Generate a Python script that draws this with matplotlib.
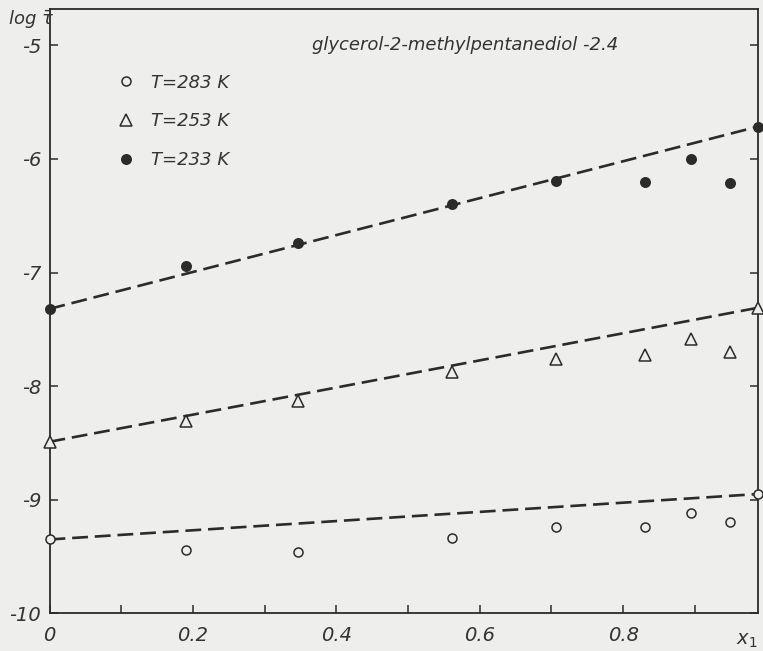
import matplotlib
matplotlib.use("Agg")
import matplotlib.pyplot as plt
from matplotlib.ticker import FixedLocator, FuncFormatter

# ── data ─────────────────────────────────────────────────────────────────────
x1 = [0.0, 0.19, 0.346, 0.561, 0.706, 0.83, 0.895, 0.949, 0.988]
log_tau_233 = [-7.32, -6.94, -6.74, -6.40, -6.19, -6.20, -6.00, -6.21, -5.715]
log_tau_253 = [-8.49, -8.31, -8.13, -7.88, -7.76, -7.73, -7.585, -7.70, -7.31]
log_tau_283 = [-9.35, -9.44, -9.46, -9.34, -9.24, -9.24, -9.12, -9.20, -8.95]

series_labels = ["T=283 K", "T=253 K", "T=233 K"]
x_ticks = [0.0, 0.1, 0.2, 0.3, 0.4, 0.5, 0.6, 0.7, 0.8, 0.9]
y_ticks = [-10, -9, -8, -7, -6, -5]

INK = "#2b2b2b"
PAPER = "#eeeeec"
plt.rcParams["font.family"] = ["DejaVu Sans"]

W, H = 763, 651
fig = plt.figure(figsize=(W / 100, H / 100), dpi=100, facecolor=PAPER)
# axes box in pixels: left 49.5, right 758, bottom 613.3, top 9
ax = fig.add_axes([49.5 / W, (H - 613.3) / H, (758 - 49.5) / W, (613.3 - 9) / H])
ax.set_facecolor(PAPER)
ax.set_xlim(0, 0.988)
ax.set_ylim(-10, -4.68)

styles = [
    (log_tau_283, dict(marker="o", markerfacecolor=PAPER, markersize=6.5)),
    (log_tau_253, dict(marker="^", markerfacecolor=PAPER, markersize=8.5)),
    (log_tau_233, dict(marker="o", markerfacecolor=INK, markersize=6.8)),
]
for (ys, st), lab in zip(styles, series_labels):
    # dashed straight line joining the pure-component values
    ax.plot([x1[0], x1[-1]], [ys[0], ys[-1]], color=INK, lw=1.9,
            dashes=(6, 2.6), zorder=2)
    ax.plot(x1, ys, linestyle="none", color=INK, markeredgecolor=INK,
            markeredgewidth=1.1, clip_on=False, zorder=3, label=lab, **st)

for sp in ax.spines.values():
    sp.set_color(INK)
    sp.set_linewidth(1.3)

ax.xaxis.set_major_locator(FixedLocator(x_ticks))
ax.xaxis.set_major_formatter(FuncFormatter(
    lambda v, _: ("0" if v == 0 else f"{v:.1f}") if round(v * 10) % 2 == 0 else ""))
ax.yaxis.set_major_locator(FixedLocator(y_ticks))
ax.yaxis.set_major_formatter(FuncFormatter(lambda v, _: f"-{abs(int(v))}"))
ax.tick_params(axis="both", direction="in", length=6, width=1.1, color=INK,
               labelcolor="#333333", labelsize=14)
ax.tick_params(axis="y", right=True, pad=6)
ax.tick_params(axis="x", pad=9)
for lbl in ax.get_xticklabels() + ax.get_yticklabels():
    lbl.set_fontstyle("italic")

leg = ax.legend(loc="upper left", bbox_to_anchor=(0.0953, 0.893), frameon=False,
                handlelength=1.0, handletextpad=0.9, labelspacing=1.15,
                borderpad=0, borderaxespad=0, prop=dict(size=13, style="italic"))
for t in leg.get_texts():
    t.set_color("#333333")

fig.text(312 / W, 1 - 45 / H, "glycerol-2-methylpentanediol -2.4", fontsize=13,
         style="italic", color="#333333", va="center", ha="left")
fig.text(8 / W, 1 - 19 / H, r"log $\bar{\tau}$", fontsize=13, style="italic",
         color="#333333", va="center", ha="left")
fig.text(747 / W, 1 - 640 / H, r"$x_1$", fontsize=14, color="#333333",
         va="center", ha="center")

fig.savefig("out.png", dpi=100, facecolor=PAPER)
